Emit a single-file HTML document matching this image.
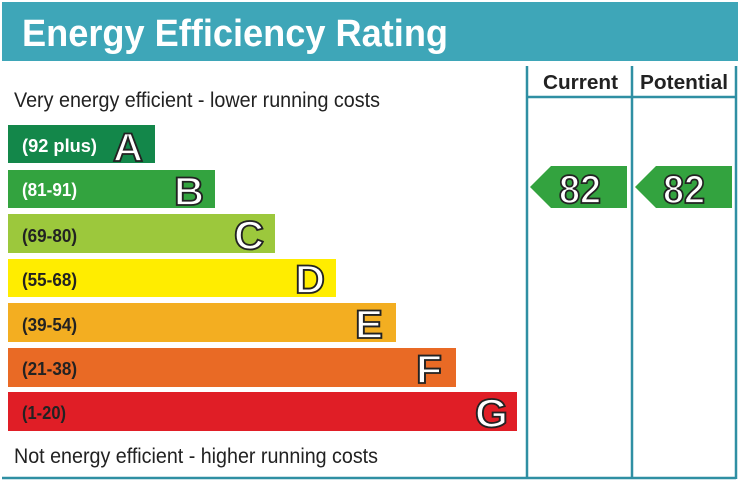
<!DOCTYPE html>
<html><head><style>body{margin:0;background:#fff}</style></head><body>
<svg width="738" height="483" xmlns="http://www.w3.org/2000/svg" font-family="Liberation Sans, Arial, sans-serif">
<rect x="2" y="2" width="736" height="59" fill="#3ea6b8"/>
<text x="22" y="46" font-size="38" font-weight="bold" fill="#fff" textLength="426" lengthAdjust="spacingAndGlyphs">Energy Efficiency Rating</text>
<g stroke="#2f8fa3" stroke-width="2.5" fill="none">
<line x1="527" y1="66" x2="527" y2="479"/>
<line x1="632" y1="66" x2="632" y2="479"/>
<line x1="736" y1="66" x2="736" y2="479"/>
<line x1="527" y1="97" x2="736" y2="97"/>
<line x1="2" y1="478" x2="736" y2="478"/>
</g>
<text x="543" y="89" font-size="20" font-weight="bold" fill="#222" textLength="75" lengthAdjust="spacingAndGlyphs">Current</text>
<text x="640" y="89" font-size="20" font-weight="bold" fill="#222" textLength="88" lengthAdjust="spacingAndGlyphs">Potential</text>
<text x="14" y="107" font-size="21" fill="#222" textLength="366" lengthAdjust="spacingAndGlyphs">Very energy efficient - lower running costs</text>
<text x="14" y="463" font-size="21" fill="#222" textLength="364" lengthAdjust="spacingAndGlyphs">Not energy efficient - higher running costs</text>
<g font-weight="bold">
<rect x="8" y="125" width="147" height="38" fill="#13874a"/>
<text x="22" y="152" font-size="18" fill="#fff" textLength="75" lengthAdjust="spacingAndGlyphs">(92 plus)</text>
<text x="113" y="161" font-size="40" fill="#fff" stroke="#222" stroke-width="1.8" textLength="30" lengthAdjust="spacingAndGlyphs">A</text>
<rect x="8" y="170" width="207" height="38" fill="#33a33f"/>
<text x="22" y="196" font-size="18" fill="#fff" textLength="55" lengthAdjust="spacingAndGlyphs">(81-91)</text>
<text x="174" y="205" font-size="40" fill="#fff" stroke="#222" stroke-width="1.8" textLength="30" lengthAdjust="spacingAndGlyphs">B</text>
<rect x="8" y="214" width="267" height="39" fill="#9cc83c"/>
<text x="22" y="242" font-size="18" fill="#222" textLength="55" lengthAdjust="spacingAndGlyphs">(69-80)</text>
<text x="234" y="249" font-size="40" fill="#fff" stroke="#222" stroke-width="1.8" textLength="30" lengthAdjust="spacingAndGlyphs">C</text>
<rect x="8" y="259" width="328" height="38" fill="#ffed00"/>
<text x="22" y="286" font-size="18" fill="#222" textLength="55" lengthAdjust="spacingAndGlyphs">(55-68)</text>
<text x="295" y="293" font-size="40" fill="#fff" stroke="#222" stroke-width="1.8" textLength="30" lengthAdjust="spacingAndGlyphs">D</text>
<rect x="8" y="303" width="388" height="39" fill="#f3ae21"/>
<text x="22" y="331" font-size="18" fill="#222" textLength="55" lengthAdjust="spacingAndGlyphs">(39-54)</text>
<text x="355" y="338" font-size="40" fill="#fff" stroke="#222" stroke-width="1.8" textLength="28" lengthAdjust="spacingAndGlyphs">E</text>
<rect x="8" y="348" width="448" height="39" fill="#e96a25"/>
<text x="22" y="375" font-size="18" fill="#222" textLength="55" lengthAdjust="spacingAndGlyphs">(21-38)</text>
<text x="416" y="383" font-size="40" fill="#fff" stroke="#222" stroke-width="1.8" textLength="26" lengthAdjust="spacingAndGlyphs">F</text>
<rect x="8" y="392" width="509" height="39" fill="#e01e26"/>
<text x="22" y="419" font-size="18" fill="#222" textLength="44" lengthAdjust="spacingAndGlyphs">(1-20)</text>
<text x="475" y="427" font-size="40" fill="#fff" stroke="#222" stroke-width="1.8" textLength="33" lengthAdjust="spacingAndGlyphs">G</text>
<polygon points="530,187 551,166 627,166 627,208 551,208" fill="#33a33f"/>
<text x="559" y="203" font-size="40" fill="#fff" stroke="#222" stroke-width="1.8" textLength="42" lengthAdjust="spacingAndGlyphs">82</text>
<polygon points="635,187 656,166 732,166 732,208 656,208" fill="#33a33f"/>
<text x="663" y="203" font-size="40" fill="#fff" stroke="#222" stroke-width="1.8" textLength="42" lengthAdjust="spacingAndGlyphs">82</text>
</g>
</svg>
</body></html>
